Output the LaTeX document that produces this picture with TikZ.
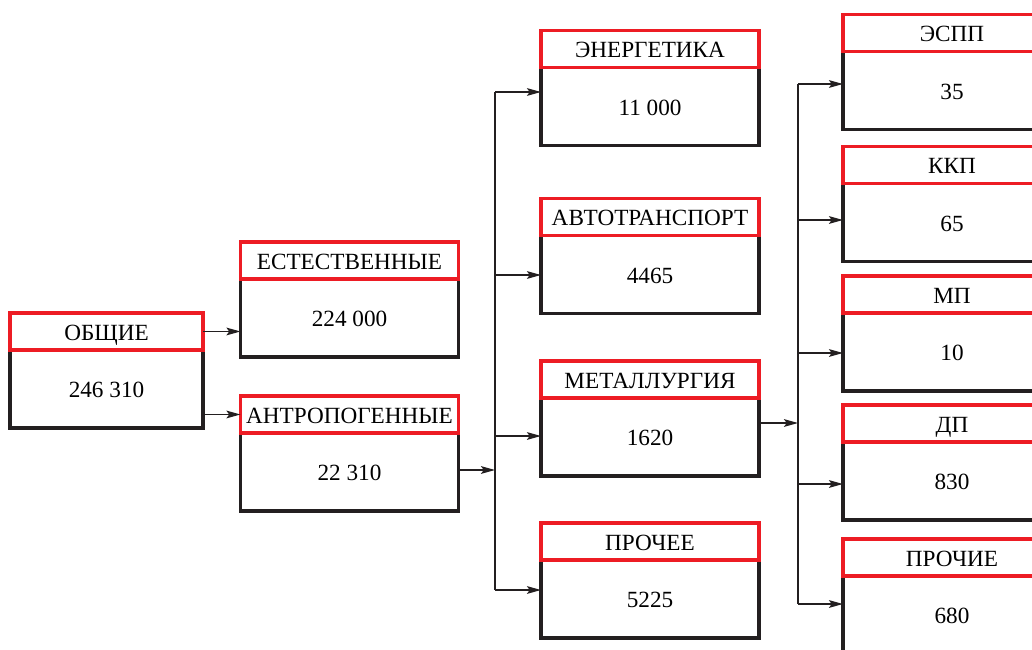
\documentclass[tikz,border=0pt]{standalone}
\usepackage{fontspec}
\setmainfont{Liberation Serif}
\usetikzlibrary{positioning,arrows.meta}
\definecolor{hdrred}{HTML}{ED1C24}
\definecolor{boxblk}{HTML}{231F20}
\tikzset{
  body/.style={draw=boxblk, line width=2.2pt, minimum width=5.45cm, minimum height=1.95cm,
    outer sep=0pt, inner sep=0pt, text height=12.5pt, text depth=0pt,
    font=\fontsize{16.5}{19}\selectfont},
  hdr/.style={draw=hdrred, line width=2.2pt, fill=white, minimum width=5.45cm, minimum height=0.925cm,
    outer sep=0pt, inner sep=0pt, text height=12.5pt, text depth=0pt,
    font=\fontsize{16.5}{19}\selectfont},
  arr/.style={draw=boxblk, line width=0.9pt, -{Stealth[length=10pt,width=5.5pt,inset=2pt]}},
  ln/.style={draw=boxblk, line width=0.9pt},
}
\begin{document}
\begin{tikzpicture}[x=0.025cm, y=-0.025cm]
    \useasboundingbox (0,0) rectangle (1032,650);
    \clip (0,0) rectangle (1032,650);

    % 箱を描く
    \node[body, minimum width=4.825cm] (obshv) at (106.5,389) {246 310};
    \node[hdr, minimum width=4.825cm, above=0pt of obshv] (obsh) {ОБЩИЕ};

    \node[body] (estv) at (349.5,318) {224 000};
    \node[hdr, above=0pt of estv] (est) {ЕСТЕСТВЕННЫЕ};
    \node[body] (antrv) at (349.5,472) {22 310};
    \node[hdr, above=0pt of antrv] (antr) {АНТРОПОГЕННЫЕ};

    \node[body] (enerv) at (650,106.5) {11 000};
    \node[hdr, above=0pt of enerv] (ener) {ЭНЕРГЕТИКА};
    \node[body] (avtov) at (650,274.5) {4465};
    \node[hdr, above=0pt of avtov] (avto) {АВТОТРАНСПОРТ};
    \node[body] (metv) at (650,437) {1620};
    \node[hdr, above=0pt of metv] (met) {МЕТАЛЛУРГИЯ};
    \node[body] (procheev) at (650,599) {5225};
    \node[hdr, above=0pt of procheev] (prochee) {ПРОЧЕЕ};

    \node[body] (esppv) at (952,90.5) {35};
    \node[hdr, above=0pt of esppv] (espp) {ЭСПП};
    \node[body] (kkpv) at (952,222.5) {65};
    \node[hdr, above=0pt of kkpv] (kkp) {ККП};
    \node[body] (mpv) at (952,352) {10};
    \node[hdr, above=0pt of mpv] (mp) {МП};
    \node[body] (dpv) at (952,481) {830};
    \node[hdr, above=0pt of dpv] (dp) {ДП};
    \node[body] (prochiev) at (952,615) {680};
    \node[hdr, above=0pt of prochiev] (prochie) {ПРОЧИЕ};

    % 分岐点
    \coordinate (j1) at (495,470);
    \coordinate (b1) at (495,92);
    \coordinate (b2) at (495,275);
    \coordinate (b3) at (495,436);
    \coordinate (b4) at (495,590);
    \coordinate (j2) at (798,423);
    \coordinate (c1) at (798,84);
    \coordinate (c2) at (798,220);
    \coordinate (c3) at (798,353);
    \coordinate (c4) at (798,484);
    \coordinate (c5) at (798,604);

    % 線を引く
    \draw[arr] (obsh.east) -- (estv.west |- obsh.east);
    \draw[arr] (obshv.east |- antr.west) -- (antr.west);

    \draw[arr] (antrv.east |- j1) -- (j1);
    \draw[ln] (b1) -- (b4);
    \draw[arr] (b1) -- (enerv.west |- b1);
    \draw[arr] (b2) -- (avtov.west |- b2);
    \draw[arr] (b3) -- (metv.west |- b3);
    \draw[arr] (b4) -- (procheev.west |- b4);

    \draw[arr] (metv.east |- j2) -- (j2);
    \draw[ln] (c1) -- (c5);
    \draw[arr] (c1) -- (esppv.west |- c1);
    \draw[arr] (c2) -- (kkpv.west |- c2);
    \draw[arr] (c3) -- (mpv.west |- c3);
    \draw[arr] (c4) -- (dpv.west |- c4);
    \draw[arr] (c5) -- (prochiev.west |- c5);

\end{tikzpicture}
\end{document}
